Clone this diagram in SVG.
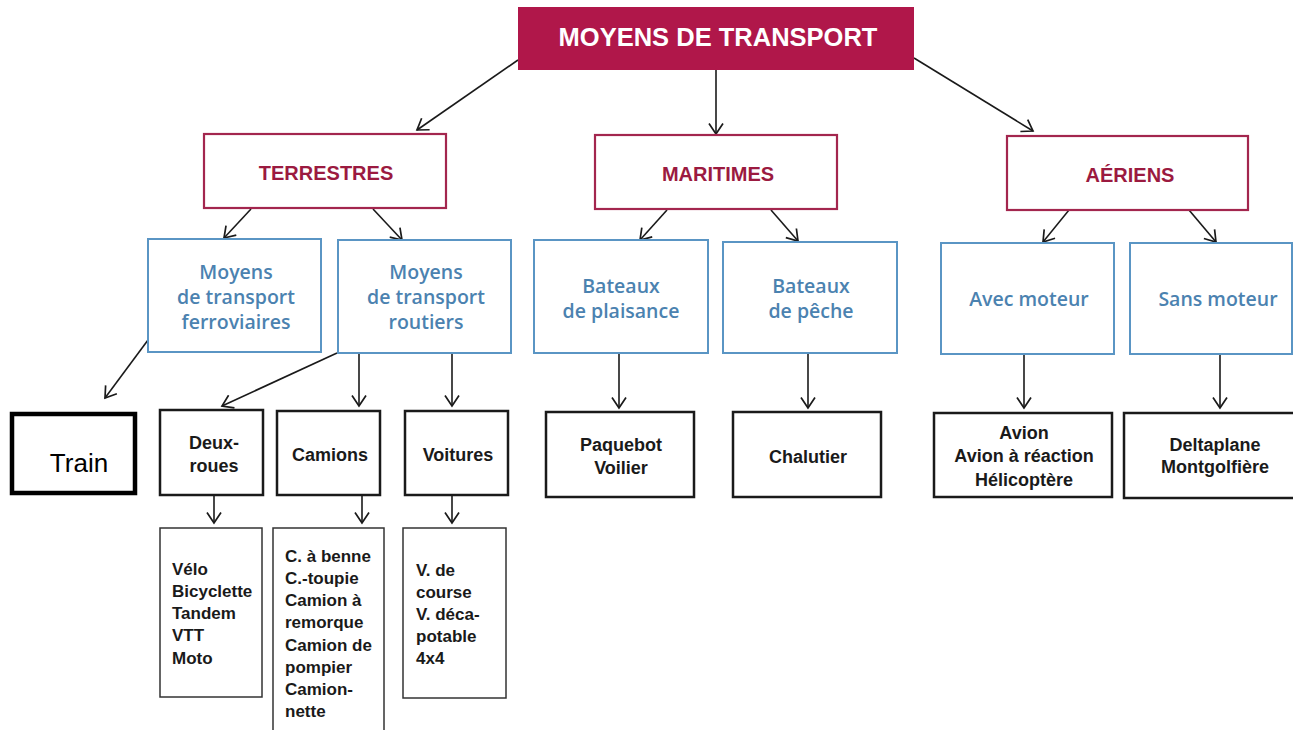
<svg xmlns="http://www.w3.org/2000/svg" width="1293" height="730" viewBox="0 0 1293 730">
<defs>
<marker id="arr" viewBox="-12 -8 14 16" markerWidth="14" markerHeight="16" refX="0" refY="0" orient="auto" markerUnits="userSpaceOnUse">
<path d="M-10.5,-7 L0,0 L-10.5,7" fill="none" stroke="#1a1a1a" stroke-width="1.7"/>
</marker>
<style>
.top{fill:#b0174a}
.toptx{font-family:"Liberation Sans",Arial,sans-serif;font-weight:bold;font-size:25.5px;fill:#ffffff;text-anchor:middle}
.cat{fill:#ffffff;stroke:#a3264e;stroke-width:2.2}
.cattx{font-family:"Liberation Sans",Arial,sans-serif;font-weight:bold;font-size:20px;fill:#9b1a40;text-anchor:middle}
.sub{fill:#ffffff;stroke:#5a95c4;stroke-width:2}
.subtx{font-family:"Open Sans","Liberation Sans",sans-serif;font-weight:600;font-size:19.5px;fill:#4b82b0;text-anchor:middle}
.leaf{fill:#ffffff;stroke:#1a1a1a;stroke-width:2.5}
.leaftx{font-family:"Liberation Sans",Arial,sans-serif;font-weight:bold;font-size:18px;fill:#1a1a1a;text-anchor:middle}
.list{fill:#ffffff;stroke:#333333;stroke-width:1.5}
.listtx{font-family:"Liberation Sans",Arial,sans-serif;font-weight:bold;font-size:17px;fill:#1a1a1a}
.train{fill:#ffffff;stroke:#000000;stroke-width:4.5}
.traintx{font-family:"Liberation Sans",Arial,sans-serif;font-size:26px;fill:#000000;text-anchor:middle}
.c{fill:none;stroke:#1a1a1a;stroke-width:1.6;marker-end:url(#arr)}
</style>
</defs>
<rect width="1293" height="730" fill="#ffffff"/>

<g id="connectors">
<line class="c" x1="518" y1="60" x2="417" y2="130"/>
<line class="c" x1="716" y1="70" x2="716" y2="134"/>
<line class="c" x1="914" y1="58" x2="1033" y2="131"/>
<line class="c" x1="251" y1="209" x2="224" y2="238"/>
<line class="c" x1="373" y1="209" x2="402" y2="240"/>
<line class="c" x1="667" y1="210" x2="640" y2="240"/>
<line class="c" x1="771" y1="210" x2="798" y2="241"/>
<line class="c" x1="1069" y1="210" x2="1043" y2="242"/>
<line class="c" x1="1189" y1="210" x2="1216" y2="242"/>
<line class="c" x1="148" y1="340" x2="105" y2="398"/>
<line class="c" x1="337" y1="353" x2="222" y2="406"/>
<line class="c" x1="359" y1="353" x2="359" y2="406"/>
<line class="c" x1="452" y1="353" x2="452" y2="406"/>
<line class="c" x1="619" y1="353" x2="619" y2="408"/>
<line class="c" x1="808" y1="353" x2="808" y2="408"/>
<line class="c" x1="1024" y1="354" x2="1024" y2="408"/>
<line class="c" x1="1220" y1="354" x2="1220" y2="408"/>
<line class="c" x1="214" y1="495" x2="214" y2="523"/>
<line class="c" x1="362" y1="495" x2="362" y2="523"/>
<line class="c" x1="452" y1="495" x2="452" y2="523"/>
</g>

<g id="n-root"><rect class="top" x="518" y="7" width="396" height="63"/><text class="toptx" x="718" y="46">MOYENS DE TRANSPORT</text></g>

<g id="n-terrestres"><rect class="cat" x="204" y="134" width="242" height="74"/><text class="cattx" x="326" y="180">TERRESTRES</text></g>
<g id="n-maritimes"><rect class="cat" x="595" y="135" width="242" height="74"/><text class="cattx" x="718" y="181">MARITIMES</text></g>
<g id="n-aeriens"><rect class="cat" x="1007" y="136" width="241" height="74"/><text class="cattx" x="1130" y="182">AÉRIENS</text></g>

<g id="n-ferroviaires"><rect class="sub" x="148" y="239" width="173" height="113"/>
<text class="subtx" x="236" y="279">Moyens</text><text class="subtx" x="236" y="304">de transport</text><text class="subtx" x="236" y="329">ferroviaires</text></g>
<g id="n-routiers"><rect class="sub" x="338" y="240" width="173" height="113"/>
<text class="subtx" x="426" y="279">Moyens</text><text class="subtx" x="426" y="304">de transport</text><text class="subtx" x="426" y="329">routiers</text></g>
<g id="n-plaisance"><rect class="sub" x="534" y="240" width="174" height="113"/>
<text class="subtx" x="621" y="293">Bateaux</text><text class="subtx" x="621" y="318">de plaisance</text></g>
<g id="n-peche"><rect class="sub" x="723" y="242" width="174" height="111"/>
<text class="subtx" x="811" y="293">Bateaux</text><text class="subtx" x="811" y="318">de pêche</text></g>
<g id="n-avec"><rect class="sub" x="941" y="243" width="173" height="111"/>
<text class="subtx" x="1029" y="306">Avec moteur</text></g>
<g id="n-sans"><rect class="sub" x="1130" y="243" width="162" height="111"/>
<text class="subtx" x="1218" y="306">Sans moteur</text></g>

<g id="n-train"><rect class="train" x="12" y="414" width="123" height="79"/><text class="traintx" x="79" y="472">Train</text></g>

<g id="n-deuxroues"><rect class="leaf" x="160" y="410" width="103" height="85"/>
<text class="leaftx" x="214" y="449">Deux-</text><text class="leaftx" x="214" y="472">roues</text></g>
<g id="n-camions"><rect class="leaf" x="277" y="411" width="103" height="84"/><text class="leaftx" x="330" y="461">Camions</text></g>
<g id="n-voitures"><rect class="leaf" x="405" y="411" width="103" height="84"/><text class="leaftx" x="458" y="461">Voitures</text></g>
<g id="n-paquebot"><rect class="leaf" x="546" y="412" width="148" height="85"/>
<text class="leaftx" x="621" y="451">Paquebot</text><text class="leaftx" x="621" y="474">Voilier</text></g>
<g id="n-chalutier"><rect class="leaf" x="733" y="412" width="148" height="85"/><text class="leaftx" x="808" y="463">Chalutier</text></g>
<g id="n-avion"><rect class="leaf" x="934" y="413" width="178" height="84"/>
<text class="leaftx" x="1024" y="439">Avion</text><text class="leaftx" x="1024" y="462">Avion à réaction</text><text class="leaftx" x="1024" y="486">Hélicoptère</text></g>
<g id="n-deltaplane"><rect class="leaf" x="1124" y="413" width="172" height="85"/>
<text class="leaftx" x="1215" y="451">Deltaplane</text><text class="leaftx" x="1215" y="473">Montgolfière</text></g>

<g id="n-liste-deuxroues"><rect class="list" x="160" y="528" width="102" height="169"/>
<text class="listtx" x="172" y="575">Vélo</text><text class="listtx" x="172" y="597">Bicyclette</text><text class="listtx" x="172" y="619">Tandem</text><text class="listtx" x="172" y="641">VTT</text><text class="listtx" x="172" y="664">Moto</text></g>
<g id="n-liste-camions"><rect class="list" x="273" y="528" width="111" height="210"/>
<text class="listtx" x="285" y="562">C. à benne</text><text class="listtx" x="285" y="584">C.-toupie</text><text class="listtx" x="285" y="606">Camion à</text><text class="listtx" x="285" y="628">remorque</text><text class="listtx" x="285" y="651">Camion de</text><text class="listtx" x="285" y="673">pompier</text><text class="listtx" x="285" y="695">Camion-</text><text class="listtx" x="285" y="717">nette</text></g>
<g id="n-liste-voitures"><rect class="list" x="403" y="528" width="103" height="170"/>
<text class="listtx" x="416" y="576">V. de</text><text class="listtx" x="416" y="598">course</text><text class="listtx" x="416" y="620">V. déca-</text><text class="listtx" x="416" y="642">potable</text><text class="listtx" x="416" y="664">4x4</text></g>
</svg>
